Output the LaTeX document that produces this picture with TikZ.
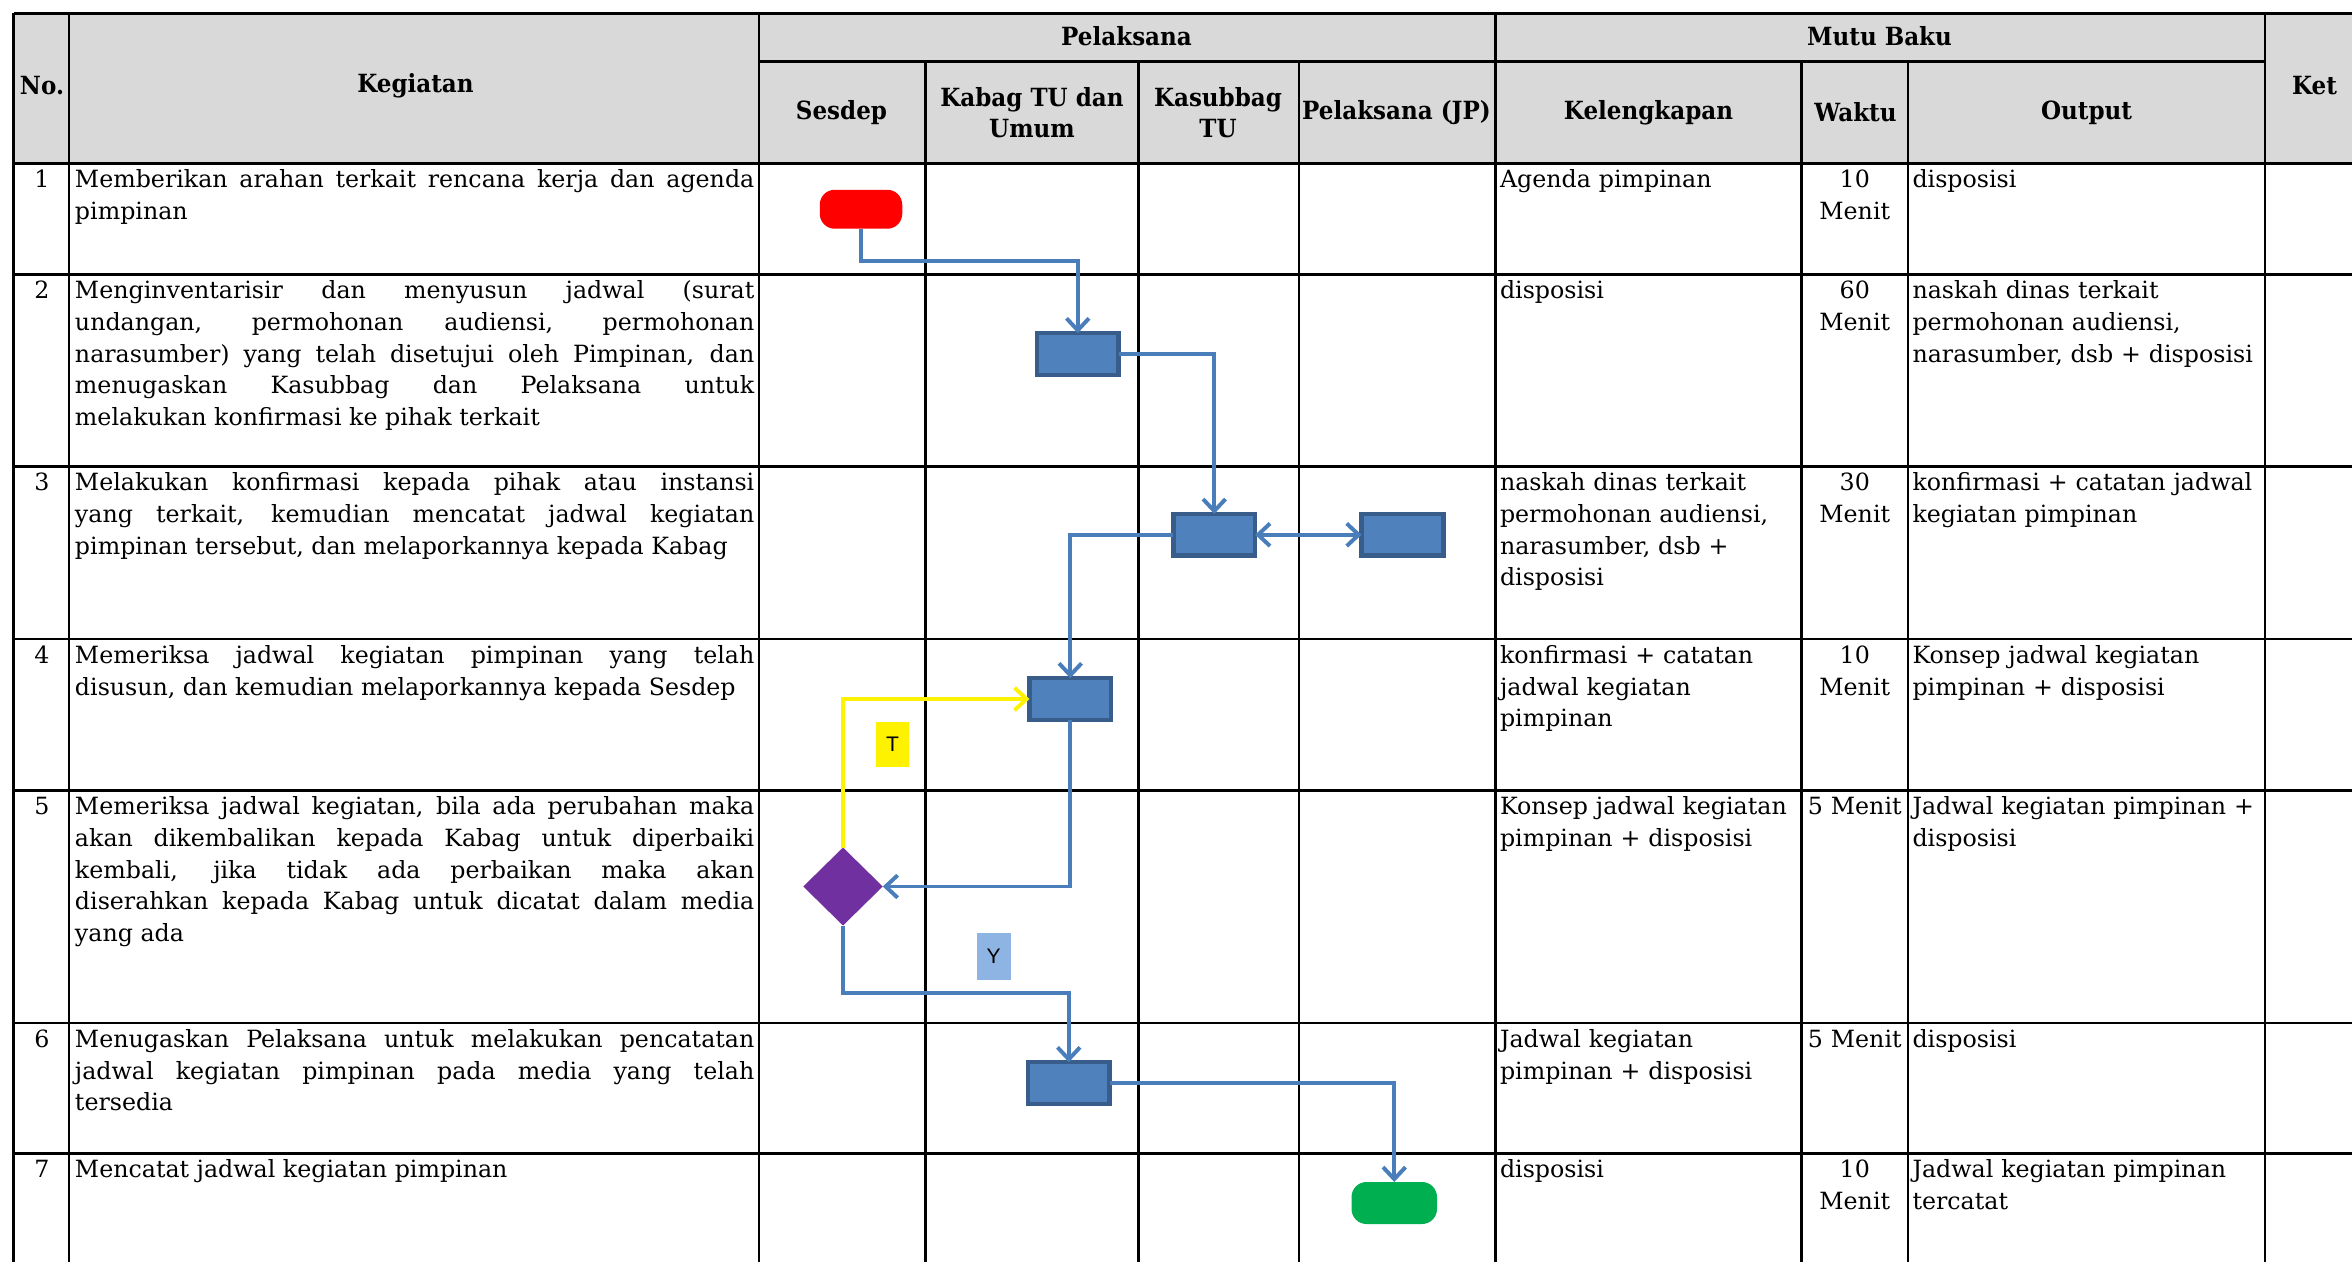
\documentclass[tikz,border=0pt]{standalone}
\usepackage{fontspec}
\setmainfont{DejaVu Serif}
\newfontfamily\headfont[FakeStretch=0.92]{DejaVu Serif}
\newfontfamily\tagfont{Liberation Sans}
\usepackage{tikz}
\usetikzlibrary{arrows.meta,%
                shapes.geometric,%
                positioning}
\definecolor{BoxFill}{HTML}{4F81BD}
\definecolor{BoxLine}{HTML}{385D8A}
\definecolor{FlowLine}{HTML}{4A7EBB}
\definecolor{HeadGray}{HTML}{D9D9D9}
\definecolor{TagBlue}{HTML}{8EB4E3}
\definecolor{DecPurple}{HTML}{7030A0}
\definecolor{EndGreen}{HTML}{00B050}
\tolerance=9999
\hbadness=10000

\begin{document}
\begin{tikzpicture}[x = 0.02cm, y = -0.02cm]
  \tikzstyle{every node} = [inner sep = 0,
			    outer sep = 0,
			    font = \fontsize{9}{12}\selectfont]
\tikzset{GridStyle/.style={line width = 1.1pt, black}}
\tikzset{HeadStyle/.style={font = \headfont\bfseries\fontsize{9.5}{12}\selectfont, align = center}}
\tikzset{TaskStyle/.style={anchor = north west, align = justify, text width = 9.06cm}}
\tikzset{CellStyle/.style={anchor = north west, align = left, text width = 4.9cm}}
\tikzset{NumStyle/.style={anchor = north}}
\tikzset{TimeStyle/.style={anchor = north, align = center, text width = 1.4cm}}
\tikzset{BoxStyle/.style={draw = BoxLine, fill = BoxFill, line width = 1.7pt,
                          minimum width = 1.09cm, minimum height = 0.555cm}}
\tikzset{TermStyle/.style={rounded corners = 0.2cm, minimum width = 1.1cm, minimum height = 0.52cm}}
\tikzset{TagStyle/.style={font = \tagfont\fontsize{8}{9}\selectfont}}
\tikzset{EdgeStyle/.style={draw = FlowLine, line width = 1.5pt,
                           -{Straight Barb[length = 0.16cm, width = 0.3cm]}}}

\useasboundingbox (0,0) rectangle (1568,840.7);
\clip (0,0) rectangle (1568,840.7);

\fill[HeadGray] (9,9) rectangle (1590,109);
\draw[GridStyle] (9,9) -- (1590,9)  (506,41) -- (1510,41)  (9,109) -- (1590,109)
                 (9,183) -- (1590,183)  (9,311) -- (1590,311)  (9,426) -- (1590,426)
                 (9,527) -- (1590,527)  (9,682) -- (1590,682)  (9,769) -- (1590,769);
\draw[GridStyle] (9,9) -- (9,850)  (46,9) -- (46,850)  (506,9) -- (506,850)
                 (617,41) -- (617,850)  (759,41) -- (759,850)  (866,41) -- (866,850)
                 (997,9) -- (997,850)  (1201,41) -- (1201,850)  (1272,41) -- (1272,850)
                 (1510,9) -- (1510,850);

\node[HeadStyle] (H1) at (28,57) {No.};
\node[HeadStyle] (H2) at (277,57) {Kegiatan};
\node[HeadStyle] (H3) at (751,24) {Pelaksana};
\node[HeadStyle] (H4) at (1253,24) {Mutu Baku};
\node[HeadStyle] (H5) at (1543,57) {Ket};
\node[HeadStyle] (H6) at (561,75) {Sesdep};
\node[HeadStyle] (H7) at (688,75) {Kabag TU dan\\Umum};
\node[HeadStyle] (H8) at (812,75) {Kasubbag\\TU};
\node[HeadStyle] (H9) at (931,75) {Pelaksana (JP)};
\node[HeadStyle] (H10) at (1099,75) {Kelengkapan};
\node[HeadStyle] (H11) at (1237,75) {Waktu};
\node[HeadStyle] (H12) at (1391,75) {Output};

\node[NumStyle] (N1) at (28,110.5) {\strut 1};
\node[NumStyle] (N2) at (28,184.5) {\strut 2};
\node[NumStyle] (N3) at (28,312.5) {\strut 3};
\node[NumStyle] (N4) at (28,427.5) {\strut 4};
\node[NumStyle] (N5) at (28,528.5) {\strut 5};
\node[NumStyle] (N6) at (28,683.5) {\strut 6};
\node[NumStyle] (N7) at (28,770.5) {\strut 7};

\node[TaskStyle] (K1) at (50,110.5) {\strut Memberikan arahan terkait rencana kerja dan agenda\linebreak pimpinan};
\node[TaskStyle] (K2) at (50,184.5) {\strut Menginventarisir dan menyusun jadwal (surat\linebreak undangan, permohonan audiensi, permohonan\linebreak narasumber) yang telah disetujui oleh Pimpinan, dan\linebreak menugaskan Kasubbag dan Pelaksana untuk\linebreak melakukan konfirmasi ke pihak terkait};
\node[TaskStyle] (K3) at (50,312.5) {\strut Melakukan konfirmasi kepada pihak atau instansi\linebreak yang terkait, kemudian mencatat jadwal kegiatan\linebreak pimpinan tersebut, dan melaporkannya kepada Kabag};
\node[TaskStyle] (K4) at (50,427.5) {\strut Memeriksa jadwal kegiatan pimpinan yang telah\linebreak disusun, dan kemudian melaporkannya kepada Sesdep};
\node[TaskStyle] (K5) at (50,528.5) {\strut Memeriksa jadwal kegiatan, bila ada perubahan maka\linebreak akan dikembalikan kepada Kabag untuk diperbaiki\linebreak kembali, jika tidak ada perbaikan maka akan\linebreak diserahkan kepada Kabag untuk dicatat dalam media\linebreak yang ada};
\node[TaskStyle] (K6) at (50,683.5) {\strut Menugaskan Pelaksana untuk melakukan pencatatan\linebreak jadwal kegiatan pimpinan pada media yang telah\linebreak tersedia};
\node[TaskStyle] (K7) at (50,770.5) {\strut Mencatat jadwal kegiatan pimpinan};

\node[CellStyle] (L1) at (1000,110.5) {\strut Agenda pimpinan};
\node[CellStyle] (L2) at (1000,184.5) {\strut disposisi};
\node[CellStyle] (L3) at (1000,312.5) {\strut naskah dinas terkait\\permohonan audiensi,\\narasumber, dsb +\\disposisi};
\node[CellStyle] (L4) at (1000,427.5) {\strut konfirmasi + catatan\\jadwal kegiatan\\pimpinan};
\node[CellStyle] (L5) at (1000,528.5) {\strut Konsep jadwal kegiatan\\pimpinan + disposisi};
\node[CellStyle] (L6) at (1000,683.5) {\strut Jadwal kegiatan\\pimpinan + disposisi};
\node[CellStyle] (L7) at (1000,770.5) {\strut disposisi};

\node[TimeStyle] (W1) at (1236.5,110.5) {\strut 10\\Menit};
\node[TimeStyle] (W2) at (1236.5,184.5) {\strut 60\\Menit};
\node[TimeStyle] (W3) at (1236.5,312.5) {\strut 30\\Menit};
\node[TimeStyle] (W4) at (1236.5,427.5) {\strut 10\\Menit};
\node[TimeStyle] (W5) at (1236.5,528.5) {\strut 5 Menit};
\node[TimeStyle] (W6) at (1236.5,683.5) {\strut 5 Menit};
\node[TimeStyle] (W7) at (1236.5,770.5) {\strut 10\\Menit};

\node[CellStyle] (O1) at (1275,110.5) {\strut disposisi};
\node[CellStyle] (O2) at (1275,184.5) {\strut naskah dinas terkait\\permohonan audiensi,\\narasumber, dsb + disposisi};
\node[CellStyle] (O3) at (1275,312.5) {\strut konfirmasi + catatan jadwal\\kegiatan pimpinan};
\node[CellStyle] (O4) at (1275,427.5) {\strut Konsep jadwal kegiatan\\pimpinan + disposisi};
\node[CellStyle] (O5) at (1275,528.5) {\strut Jadwal kegiatan pimpinan +\\disposisi};
\node[CellStyle] (O6) at (1275,683.5) {\strut disposisi};
\node[CellStyle] (O7) at (1275,770.5) {\strut Jadwal kegiatan pimpinan\\tercatat};

\node[TermStyle, fill = red] (F1) at (574,139.5) {};
\node[BoxStyle] (F2) at (718.5,236) {};
\node[BoxStyle] (F3) at (809.5,356.5) {};
\node[BoxStyle, right = 1.42cm of F3] (F4) {};
\node[BoxStyle] (F5) at (713.5,466) {};
\node[diamond, fill = DecPurple, minimum width = 1.06cm, minimum height = 1.04cm] (F6) at (562,591) {};
\node[BoxStyle] (F7) at (712.5,722) {};
\node[TermStyle, fill = EndGreen, minimum width = 1.14cm, minimum height = 0.56cm] (F8) at (929.5,802) {};

\node[TagStyle, fill = yellow, minimum width = 0.44cm, minimum height = 0.6cm] (T1) at (595,496) {T};
\node[TagStyle, fill = TagBlue, minimum width = 0.46cm, minimum height = 0.62cm] (T2) at (662.5,637.5) {Y};

\coordinate (B1) at (0,174);
\coordinate (B2) at (0,662);

\draw[EdgeStyle] (F1.south) -- (F1.south |- B1) -| (F2.north);
\draw[EdgeStyle] (F2.east) -| (F3.north);
\draw[EdgeStyle, {Straight Barb[length = 0.16cm, width = 0.3cm]}-{Straight Barb[length = 0.16cm, width = 0.3cm]}] (F3.east) -- (F4.west);
\draw[EdgeStyle] (F3.west) -| (F5.north);
\draw[EdgeStyle, draw = yellow] (F6.north) |- (F5.west);
\draw[EdgeStyle] (F5.south) |- (F6.east);
\draw[EdgeStyle] (F6.south) -- (F6.south |- B2) -| (F7.north);
\draw[EdgeStyle] (F7.east) -| (F8.north);

\end{tikzpicture}
\end{document}
